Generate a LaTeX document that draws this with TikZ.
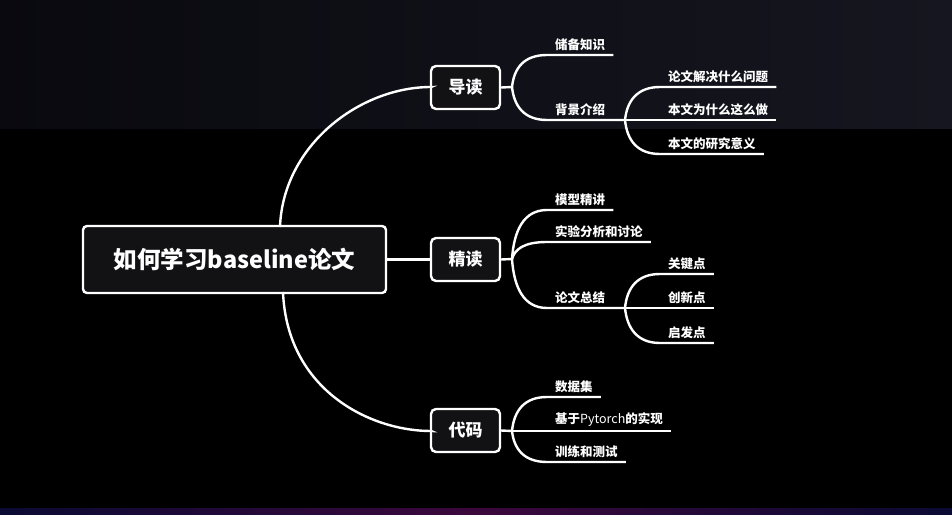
\documentclass[tikz,border=0pt]{standalone}
\usepackage{fontspec}
\setmainfont{Noto Sans CJK SC}
\definecolor{bgleft}{RGB}{9,9,15}
\definecolor{bgright}{RGB}{22,22,32}
\definecolor{boxfill}{RGB}{18,18,20}
\definecolor{stripa}{RGB}{10,10,50}
\definecolor{stripb}{RGB}{60,8,60}
\tikzset{
  branch/.style={draw=white, line width=2.4pt},
  topic/.style={draw=white, line width=2.4pt, fill=boxfill, rounded corners=5pt,
    minimum width=69pt, minimum height=43pt, text=white,
    font=\bfseries\fontsize{17}{17}\selectfont},
  leaf/.style={anchor=south west, inner xsep=8pt, inner ysep=4pt, text=white,
    font=\bfseries\fontsize{12.5}{13}\selectfont}
}
\begin{document}
\begin{tikzpicture}[x=1pt, y=-1pt]
  % background
  \fill[black] (0,0) rectangle (952,514);
  \shade[left color=bgleft, right color=bgright] (0,0) rectangle (952,128);
  \shade[left color=stripa, right color=stripa, middle color=stripb] (0,508) rectangle (952,514);
  \useasboundingbox (0,0) rectangle (952,514);

  % root and topics
  \node[draw=white, line width=2.4pt, fill=boxfill, rounded corners=4pt, minimum width=303pt,
    minimum height=67pt, text=white, font=\bfseries\fontsize{23.5}{23.5}\selectfont]
    (root) at (234.5,259.5) {如何学习baseline论文};
  \node[topic] (dd) at (465.5,87.5) {导读};
  \node[topic] (jd) at (465.5,259.5) {精读};
  \node[topic] (dm) at (465.5,430.5) {代码};

  \coordinate (rtop) at (280,227);
  \coordinate (rbot) at (283,292);
  \draw[branch] (rtop) .. controls (283,145) and (360,87) .. (431,87) -- (dd.west);
  \draw[branch] (root.east) -- (jd.west);
  \draw[branch] (rbot) .. controls (287,390) and (370,431) .. (431,431) -- (dm.west);

  % 导读
  \coordinate (fdd) at (512,87);
  \coordinate (fbj) at (625,120);
  \node[leaf] (cb) at (547,55) {储备知识};
  \node[leaf] (bj) at (547,120) {背景介绍};
  \node[leaf] (wt) at (660,87) {论文解决什么问题};
  \node[leaf] (zm) at (660,120) {本文为什么这么做};
  \node[leaf] (yy) at (660,154) {本文的研究意义};
  \draw[branch] (dd.east) -- (fdd);
  \draw[branch] (fdd) .. controls (514,68) and (524,55) .. (cb.south west) -- (cb.south east);
  \draw[branch] (fdd) .. controls (514,106) and (524,120) .. (bj.south west) -- (fbj);
  \draw[branch] (fbj) .. controls (627,101) and (637,87) .. (wt.south west) -- (wt.south east);
  \draw[branch] (fbj) -- (zm.south west) -- (zm.south east);
  \draw[branch] (fbj) .. controls (627,140) and (637,154) .. (yy.south west) -- (yy.south east);

  % 精读
  \coordinate (fjd) at (512,259);
  \coordinate (fzj) at (625,308);
  \node[leaf] (mx) at (547,210) {模型精讲};
  \node[leaf] (sy) at (547,242) {实验分析和讨论};
  \node[leaf] (zj) at (547,308) {论文总结};
  \node[leaf] (gj) at (660,274) {关键点};
  \node[leaf] (cx) at (660,308) {创新点};
  \node[leaf] (qf) at (660,343) {启发点};
  \draw[branch] (jd.east) -- (fjd);
  \draw[branch] (fjd) .. controls (514,230) and (524,210) .. (mx.south west) -- (mx.south east);
  \draw[branch] (fjd) .. controls (515,249) and (524,242) .. (sy.south west) -- (sy.south east);
  \draw[branch] (fjd) .. controls (514,288) and (524,308) .. (zj.south west) -- (fzj);
  \draw[branch] (fzj) .. controls (627,288) and (637,274) .. (gj.south west) -- (gj.south east);
  \draw[branch] (fzj) -- (cx.south west) -- (cx.south east);
  \draw[branch] (fzj) .. controls (627,328) and (637,343) .. (qf.south west) -- (qf.south east);

  % 代码
  \coordinate (fdm) at (512,431);
  \node[leaf] (sj) at (547,397) {数据集};
  \node[leaf] (sx) at (547,431) {基于{\mdseries Pytorch}的实现};
  \node[leaf] (xl) at (547,462) {训练和测试};
  \draw[branch] (dm.east) -- (fdm);
  \draw[branch] (fdm) .. controls (514,411) and (524,397) .. (sj.south west) -- (sj.south east);
  \draw[branch] (fdm) -- (sx.south west) -- (sx.south east);
  \draw[branch] (fdm) .. controls (514,449) and (524,462) .. (xl.south west) -- (xl.south east);
\end{tikzpicture}
\end{document}
